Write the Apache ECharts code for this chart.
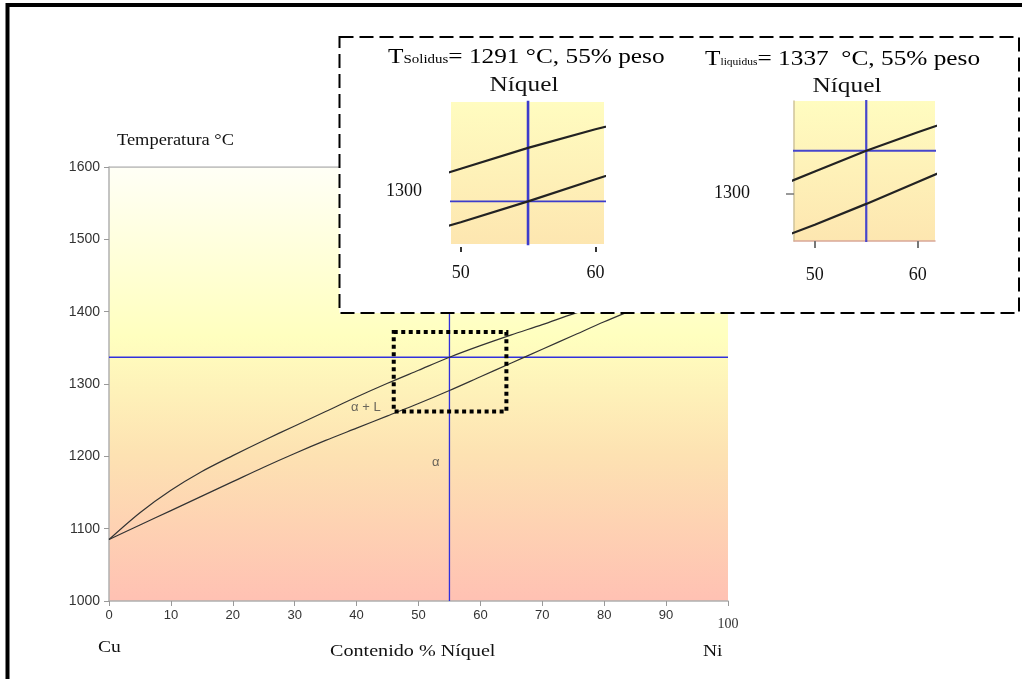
<!DOCTYPE html>
<html>
<head>
<meta charset="utf-8">
<script src="https://cdn.jsdelivr.net/npm/echarts@6/dist/echarts.min.js"></script>
<style>
html,body{margin:0;padding:0;background:#fff;}
#chart{width:1022px;height:679px;}
</style>
</head>
<body>
<div id="chart"></div>
<script>
// ---- data ----
const niquelPct = [0,5,10,15,20,25,30,35,40,45,50,55,60,65,70,75,80,85,90,95,100];
const liquidus  = [1085,1122,1153,1179,1201,1222,1242,1262,1282,1301,1319,1337,1353,1368,1382,1397,1410,1423,1434,1445,1455];
const solidus   = [1085,1105,1125,1145,1165,1185,1204,1222,1239,1256,1273,1291,1310,1329,1348,1367,1386,1404,1422,1439,1455];
const composition = 55;
const tLiquidus = 1337;
const tSolidus = 1291;
const xRange = [0, 100];
const yRange = [1000, 1600];
const zoomBox = [[46, 1372], [64.2, 1262]];
const phaseLabels = [
  { name: 'α + L', value: [41.5, 1267] },
  { name: 'α', value: [52.8, 1191] }
];
const insetXTicks = [50, 60];
const insetYTicks = [1300];

const liqPts = niquelPct.map((x, i) => [x, liquidus[i]]);
const solPts = niquelPct.map((x, i) => [x, solidus[i]]);
const hLine = t => [[xRange[0], t], [xRange[1], t]];
const vLine = [[composition, yRange[0]], [composition, yRange[1]]];

const serif = '"Liberation Serif", "DejaVu Serif", serif';
const sans = '"Liberation Sans", Arial, sans-serif';
const SX = 1.15;

const mainGrad = {type:'linear',x:0,y:0,x2:0,y2:1,colorStops:[
  {offset:0,color:'#fffff6'},
  {offset:0.39,color:'#ffffbf'},
  {offset:0.66,color:'#fde2b2'},
  {offset:1,color:'#ffc1b3'}]};
const insetGrad = {type:'linear',x:0,y:0,x2:0,y2:1,colorStops:[
  {offset:0,color:'#fffcc0'},
  {offset:1,color:'#fde6b0'}]};

const chart = echarts.init(document.getElementById('chart'), null, {renderer:'canvas'});

function stext(text, x, y, size, align) {
  return {
    type:'text', x:x, y:y, z:20, scaleX:SX, originX:0, originY:0, silent:true,
    style:{text:text, fontFamily:serif, fontSize:size, fill:'#111', align:align, verticalAlign:'middle'}
  };
}
function plainLine(data, xi, z, color, width, smooth) {
  return {type:'line', xAxisIndex:xi, yAxisIndex:xi, data:data, showSymbol:false, symbol:'none',
    z:z, clip:true, silent:true, smooth:smooth || false, lineStyle:{color:color, width:width, type:'solid'}};
}
const plain = v => String(v);

const option = {
  backgroundColor:'#fff',
  animation:false,
  grid:[
    {left:109, top:167, width:619, height:434, show:true, backgroundColor:mainGrad, borderWidth:0, z:0, outerBoundsMode:'none', containLabel:false},
    {left:451, top:102, width:153, height:142, show:true, backgroundColor:insetGrad, borderWidth:0, z:12, outerBoundsMode:'none', containLabel:false},
    {left:794, top:101, width:141, height:140, show:true, backgroundColor:insetGrad, borderWidth:0, z:12, outerBoundsMode:'none', containLabel:false}
  ],
  xAxis:[
    {gridIndex:0, type:'value', min:xRange[0], max:xRange[1], interval:10,
     axisLine:{show:true, lineStyle:{color:'#b0b0b0', width:1.5}},
     axisTick:{show:true, length:5, lineStyle:{color:'#999'}},
     splitLine:{show:false},
     axisLabel:{color:'#333', fontFamily:sans, fontSize:13, margin:8,
       formatter:function(v){ return v === 100 ? '{s|100}' : String(v); },
       rich:{s:{fontFamily:serif, fontSize:14, color:'#333', padding:[8,0,0,0]}}}},
    {gridIndex:1, type:'value', min:49.28, max:60.64, z:12, offset:3,
     axisLine:{show:false},
     axisTick:{show:true, length:5, customValues:insetXTicks, lineStyle:{color:'#333', width:2}},
     splitLine:{show:false},
     axisLabel:{customValues:insetXTicks, formatter:plain, color:'#111', fontFamily:serif, fontSize:18, margin:17}},
    {gridIndex:2, type:'value', min:47.98, max:61.68, z:12,
     axisLine:{show:true, lineStyle:{color:'#d9a898', width:1.5}},
     axisTick:{show:true, length:7, customValues:insetXTicks, lineStyle:{color:'#777', width:2}},
     splitLine:{show:false},
     axisLabel:{customValues:insetXTicks, formatter:plain, color:'#111', fontFamily:serif, fontSize:18, margin:25}}
  ],
  yAxis:[
    {gridIndex:0, type:'value', min:yRange[0], max:yRange[1], interval:100,
     axisLine:{show:true, lineStyle:{color:'#b0b0b0', width:1.5}},
     axisTick:{show:true, length:5, lineStyle:{color:'#999'}},
     splitLine:{show:false},
     axisLabel:{formatter:plain, color:'#333', fontFamily:sans, fontSize:14, margin:9}},
    {gridIndex:1, type:'value', min:1254.3, max:1376.5, z:12,
     axisLine:{show:false}, axisTick:{show:false}, splitLine:{show:false},
     axisLabel:{customValues:insetYTicks, formatter:plain, color:'#111', fontFamily:serif, fontSize:18, margin:29}},
    {gridIndex:2, type:'value', min:1258.9, max:1380, z:12,
     axisLine:{show:true, lineStyle:{color:'#cfc39a', width:1.5}},
     axisTick:{show:true, length:8, customValues:insetYTicks, lineStyle:{color:'#777', width:1.5}},
     splitLine:{show:false},
     axisLabel:{customValues:insetYTicks, formatter:plain, color:'#111', fontFamily:serif, fontSize:18, margin:44}}
  ],
  series:[
    // main chart
    plainLine(hLine(yRange[1]), 0, 1, '#b0b0b0', 1.5),
    plainLine(hLine(tLiquidus), 0, 2, '#3030dd', 1.3),
    plainLine(vLine, 0, 2, '#3030dd', 1.3),
    Object.assign(plainLine(liqPts, 0, 3, '#333', 1.2, 0.3), {
      markArea:{silent:true, z:4, itemStyle:{color:'rgba(0,0,0,0)', borderColor:'#000', borderWidth:4, borderType:[4,3.5]},
        data:[[{coord:zoomBox[0]},{coord:zoomBox[1]}]]}}),
    plainLine(solPts, 0, 3, '#333', 1.2, 0.3),
    {type:'scatter', xAxisIndex:0, yAxisIndex:0, data:phaseLabels, symbolSize:1, z:4, silent:true,
     itemStyle:{color:'rgba(0,0,0,0)'},
     label:{show:true, position:'inside', formatter:'{b}', color:'#444', fontFamily:sans, fontSize:13}},
    // inset 1 (solidus)
    plainLine(hLine(tSolidus), 1, 14, '#3c3ccc', 1.6),
    plainLine(vLine, 1, 14, '#3c3ccc', 2.6),
    plainLine(liqPts, 1, 15, '#222', 2.2),
    plainLine(solPts, 1, 15, '#222', 2.2),
    // inset 2 (liquidus)
    plainLine(hLine(tLiquidus), 2, 14, '#4646cc', 2),
    plainLine(vLine, 2, 14, '#4646cc', 2.2),
    plainLine(liqPts, 2, 15, '#222', 2.2),
    plainLine(solPts, 2, 15, '#222', 2.2)
  ],
  graphic:[
    {type:'rect', z:10, silent:true,
     shape:{x:339.5, y:37, width:679.5, height:276},
     style:{fill:'#fff', stroke:'#000', lineWidth:2, lineDash:[14,6]}},
    {type:'polyline', z:30, silent:true,
     shape:{points:[[7.5,679],[7.5,5],[1022,5]]},
     style:{stroke:'#000', lineWidth:4, fill:null}},
    stext('Temperatura °C', 117, 141, 16, 'left'),
    stext('Cu', 98, 648, 17, 'left'),
    stext('Contenido % Níquel', 330, 651, 17.5, 'left'),
    stext('Ni', 703, 652, 17, 'left'),
    {type:'text', x:388, y:57.5, z:20, scaleX:SX, originX:0, originY:0, silent:true,
     style:{text:'{a|T}{b|Solidus}{a|= 1291 °C, 55% peso}', align:'left', verticalAlign:'middle',
       rich:{a:{fontFamily:serif, fontSize:22, color:'#111'},
             b:{fontFamily:serif, fontSize:13, color:'#111', verticalAlign:'bottom', padding:[0,0,2,0]}}}},
    stext('Níquel', 524, 85, 22, 'center'),
    {type:'text', x:705, y:59, z:20, scaleX:SX, originX:0, originY:0, silent:true,
     style:{text:'{a|T}{b|liquidus}{a|= 1337  °C, 55% peso}', align:'left', verticalAlign:'middle',
       rich:{a:{fontFamily:serif, fontSize:22, color:'#111'},
             b:{fontFamily:serif, fontSize:10, color:'#111', verticalAlign:'bottom', padding:[0,0,3,0]}}}},
    stext('Níquel', 847, 86, 22, 'center')
  ]
};
chart.setOption(option);
</script>
</body>
</html>
